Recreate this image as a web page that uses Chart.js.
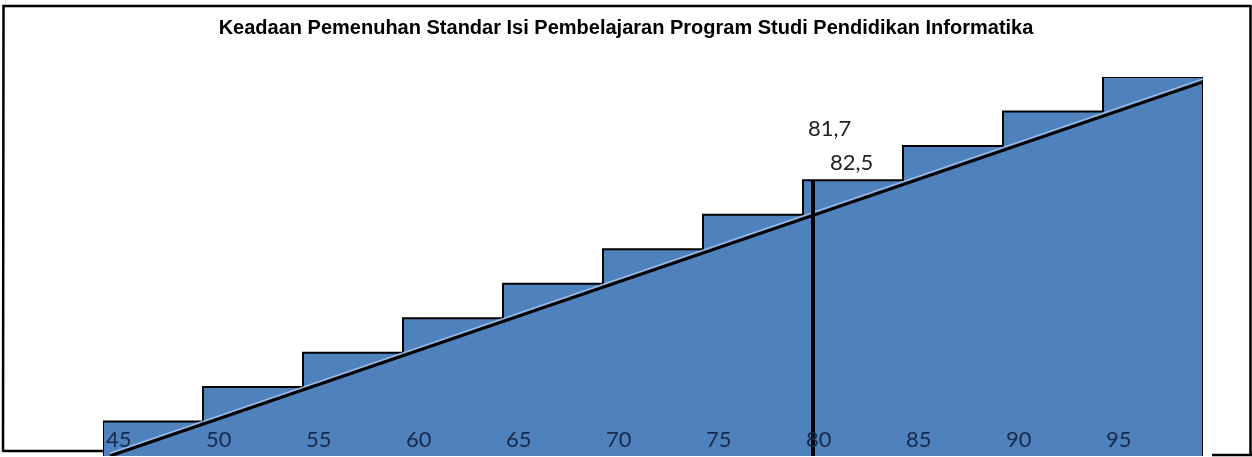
<!DOCTYPE html>
<html>
<head>
<meta charset="utf-8">
<script src="https://cdn.jsdelivr.net/npm/chart.js@4/dist/chart.umd.min.js"></script>
<style>
  html, body { margin: 0; padding: 0; background: #fff; }
  #wrap { position: relative; width: 1252px; height: 457px; }
</style>
</head>
<body>
<div id="wrap"><canvas id="c"></canvas></div>
<script>
// ---- data ----
const titleText = 'Keadaan Pemenuhan Standar Isi Pembelajaran Program Studi Pendidikan Informatika';
const stepStarts = [45, 50, 55, 60, 65, 70, 75, 80, 85, 90, 95];
const stepLevels = [1, 2, 3, 4, 5, 6, 7, 8, 9, 10, 11];
const stepEnd = 100;
const tickValues = [45, 50, 55, 60, 65, 70, 75, 80, 85, 90, 95];
const tickLabels = ['45', '50', '55', '60', '65', '70', '75', '80', '85', '90', '95'];
const trendX = [45.35, 100];
const trendY = [0, 10.86];
const markerX = [80.5, 80.5];
const markerY = [0, 8];
const noteTexts = ['81,7', '82,5'];
const noteX = [80.25, 81.35];
const noteY = [9.48, 8.52];

// ---- build series ----
const stairData = [{ x: stepStarts[0], y: 0 }]
  .concat(stepStarts.map((s, i) => ({ x: s, y: stepLevels[i] })))
  .concat([{ x: stepEnd, y: stepLevels[stepLevels.length - 1] }, { x: stepEnd, y: 0 }]);
const trendData = trendX.map((x, i) => ({ x, y: trendY[i] }));
const highlightData = trendX.map((x, i) => ({ x, y: trendY[i] + 0.08 }));
const markerData = markerX.map((x, i) => ({ x, y: markerY[i] }));

const framePlugin = {
  id: 'frame',
  beforeDraw(chart) {
    const ctx = chart.ctx;
    ctx.save();
    ctx.fillStyle = '#ffffff';
    ctx.fillRect(0, 0, chart.width, chart.height);
    ctx.strokeStyle = '#000';
    ctx.lineWidth = 2.5;
    ctx.beginPath();
    ctx.moveTo(3, 452); ctx.lineTo(3.5, 6); ctx.lineTo(1250.5, 6); ctx.lineTo(1250.5, 454);
    ctx.stroke();
    ctx.beginPath();
    ctx.moveTo(3, 451); ctx.lineTo(110, 451);
    ctx.moveTo(1212, 455); ctx.lineTo(1252, 455);
    ctx.stroke();
    ctx.restore();
  }
};

const notesPlugin = {
  id: 'notes',
  afterDatasetsDraw(chart) {
    const ctx = chart.ctx;
    const xs = chart.scales.x, ys = chart.scales.y;
    ctx.save();
    ctx.font = '22px Lato';
    ctx.fillStyle = '#222222';
    ctx.textAlign = 'left';
    ctx.textBaseline = 'middle';
    noteTexts.forEach((t, i) => {
      ctx.fillText(t, xs.getPixelForValue(noteX[i]), ys.getPixelForValue(noteY[i]));
    });
    ctx.restore();
  }
};

new Chart(document.getElementById('c'), {
  type: 'line',
  data: {
    datasets: [
      {
        data: stairData,
        stepped: true,
        fill: 'origin',
        backgroundColor: '#4f81bd',
        borderColor: '#000000',
        borderWidth: 2,
        pointRadius: 0,
        order: 4
      },
      {
        data: highlightData,
        borderColor: 'rgba(170,198,232,0.85)',
        borderWidth: 1.5,
        pointRadius: 0,
        fill: false,
        order: 3
      },
      {
        data: trendData,
        borderColor: '#000000',
        borderWidth: 3,
        pointRadius: 0,
        fill: false,
        order: 2
      },
      {
        data: markerData,
        borderColor: '#000000',
        borderWidth: 4,
        pointRadius: 0,
        fill: false,
        order: 1
      }
    ]
  },
  options: {
    responsive: true,
    maintainAspectRatio: false,
    animation: false,
    events: [],
    layout: { padding: 0 },
    plugins: {
      legend: { display: false },
      tooltip: { enabled: false },
      title: {
        display: true,
        text: titleText,
        color: '#000',
        font: { family: 'Liberation Sans', size: 20, weight: 'bold', lineHeight: 1.2 },
        padding: { top: 16, bottom: 37 }
      }
    },
    scales: {
      x: {
        type: 'linear',
        min: 45,
        max: 100,
        grid: { display: false, drawTicks: false },
        border: { display: false },
        afterBuildTicks: (s) => { s.ticks = tickValues.map(v => ({ value: v })); },
        afterFit: (s) => { s.height = 1; },
        ticks: {
          z: 1,
          autoSkip: false,
          mirror: true,
          align: 'start',
          labelOffset: 3,
          padding: 3,
          maxRotation: 0,
          color: '#172a4c',
          font: { family: 'Lato', size: 22 },
          callback: (v, i) => tickLabels[i]
        }
      },
      y: {
        type: 'linear',
        min: 0,
        max: 11,
        display: true,
        grid: { display: false, drawTicks: false },
        border: { display: false },
        ticks: { display: false },
        afterFit: (s) => { s.width = 103; }
      },
      yr: {
        type: 'linear',
        position: 'right',
        min: 0,
        max: 11,
        display: true,
        grid: { display: false, drawTicks: false },
        border: { display: false },
        ticks: { display: false },
        afterFit: (s) => { s.width = 49; }
      }
    }
  },
  plugins: [framePlugin, notesPlugin]
});
</script>
</body>
</html>
